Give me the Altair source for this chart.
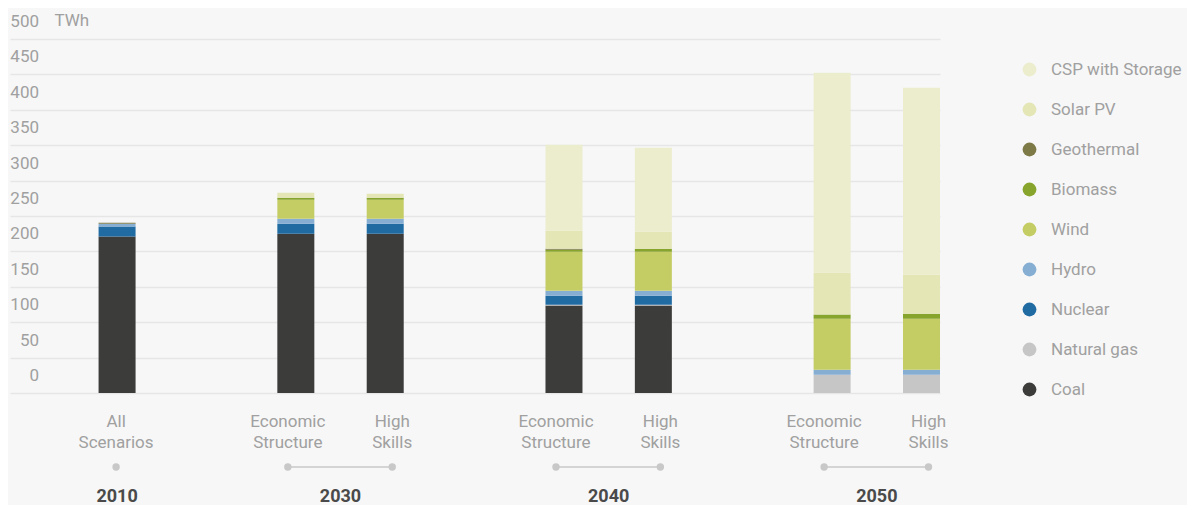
import altair as alt
import pandas as pd

# ---- data ----
bar_keys = ["All Scenarios|2010", "Economic Structure|2030", "High Skills|2030",
            "Economic Structure|2040", "High Skills|2040",
            "Economic Structure|2050", "High Skills|2050"]
slot_domain = ["All Scenarios|2010", "gap1", "gap2", "gap3",
               "Economic Structure|2030", "mid2030", "High Skills|2030",
               "gap4", "gap5", "gap6",
               "Economic Structure|2040", "mid2040", "High Skills|2040",
               "gap7", "gap8", "gap9",
               "Economic Structure|2050", "mid2050", "High Skills|2050"]

sources = ["Coal", "Natural gas", "Nuclear", "Hydro", "Wind", "Biomass",
           "Geothermal", "Solar PV", "CSP with Storage"]
colors = ["#3c3c3b", "#c6c6c6", "#216ba3", "#86aed3", "#c4cc64", "#87a52c",
          "#7e7a48", "#e4e6b6", "#ecedcd"]

coal = [221, 225, 225, 123.5, 123.5, 0, 0]
natural_gas = [0, 0, 0, 1.2, 1.2, 25.8, 25.8]
nuclear = [14, 14, 14, 12.7, 12.7, 0, 0]
hydro = [4.2, 7.1, 7.1, 7.1, 7.1, 7.1, 7.1]
wind = [0, 26.8, 26.8, 55.1, 55.1, 72, 72]
biomass = [0, 2.8, 2.8, 2.8, 4.2, 5.8, 7.2]
geothermal = [1.4, 0, 0, 1.4, 0, 0, 0]
solar_pv = [0, 7.1, 5.6, 25.4, 24, 59.2, 55]
csp = [0, 0, 0, 121.5, 118.7, 282.5, 264]

years = ["2010", "2030", "2040", "2050"]
year_slots = ["All Scenarios|2010", "mid2030", "mid2040", "mid2050"]
es_keys = ["Economic Structure|2030", "Economic Structure|2040", "Economic Structure|2050"]
hs_keys = ["High Skills|2030", "High Skills|2040", "High Skills|2050"]
y_ticks = [0, 50, 100, 150, 200, 250, 300, 350, 400, 450, 500]

series = [coal, natural_gas, nuclear, hydro, wind, biomass, geothermal, solar_pv, csp]
rows = []
for i, (src, vals) in enumerate(zip(sources, series)):
    for k, v in zip(bar_keys, vals):
        rows.append({"slot": k, "source": src, "order": i, "value": v})
df = pd.DataFrame(rows)

W, H = 930, 354
FONT = "Roboto"
GRAY = "#a0a0a0"

x_scale = alt.Scale(domain=slot_domain, paddingInner=0.172, paddingOuter=0.991, align=1)

bars = alt.Chart(df).mark_bar(size=37).encode(
    x=alt.X("slot:N", scale=x_scale, sort=slot_domain,
            axis=alt.Axis(title=None, domain=False, ticks=False, tickSize=0, grid=False,
                          labelAngle=0, labelFont=FONT, labelFontSize=17, labelColor=GRAY,
                          labelLineHeight=21, labelPadding=20, labelBaseline="top",
                          labelExpr="indexof(datum.value, '|') < 0 ? '' : split(split(datum.value, '|')[0], ' ')",
                          labelOffset={"condition": [
                              {"test": "indexof(datum.value, 'Economic') >= 0", "value": -8},
                              {"test": "indexof(datum.value, 'High') >= 0", "value": 7}],
                              "value": -1})),
    y=alt.Y("value:Q", stack="zero", scale=alt.Scale(domain=[0, 500], nice=False),
            axis=alt.Axis(title="TWh", values=y_ticks, domain=False, ticks=False, tickSize=0,
                          grid=True, gridColor="#e6e6e6", gridWidth=1.5,
                          labelFont=FONT, labelFontSize=17, labelColor=GRAY,
                          labelAlign="right", labelBaseline="middle", labelPadding=-28.5,
                          labelOffset=-17.5, labelFlush=False,
                          titleAngle=0, titleX=44, titleY=-19, titleAlign="left",
                          titleBaseline="middle", titleFont=FONT, titleFontSize=17,
                          titleFontWeight="normal", titleColor=GRAY)),
    color=alt.Color("source:N",
                    scale=alt.Scale(domain=sources[::-1], range=colors[::-1]),
                    legend=alt.Legend(title=None, orient="none", legendX=1011, legendY=22,
                                      symbolType="circle", symbolSize=190, symbolStrokeWidth=0,
                                      symbolOpacity=1, labelFont=FONT, labelFontSize=17,
                                      labelColor=GRAY, labelOffset=13, rowPadding=22,
                                      padding=0)),
    order=alt.Order("order:Q", sort="ascending"),
)

dot_color = "#c8c8c8"
dot_y = H + 74

dots_all = alt.Chart(pd.DataFrame({"slot": ["All Scenarios|2010"]})).mark_circle(
    size=55, color=dot_color, opacity=1, xOffset=-1).encode(
    x=alt.X("slot:N", scale=x_scale, sort=slot_domain), y=alt.value(dot_y))
dots_es = alt.Chart(pd.DataFrame({"slot": es_keys})).mark_circle(
    size=55, color=dot_color, opacity=1, xOffset=-8).encode(
    x=alt.X("slot:N", scale=x_scale, sort=slot_domain), y=alt.value(dot_y))
dots_hs = alt.Chart(pd.DataFrame({"slot": hs_keys})).mark_circle(
    size=55, color=dot_color, opacity=1, xOffset=7).encode(
    x=alt.X("slot:N", scale=x_scale, sort=slot_domain), y=alt.value(dot_y))
links = alt.Chart(pd.DataFrame({"a": es_keys, "b": hs_keys})).mark_rule(
    color=dot_color, strokeWidth=1.5, xOffset=-8, x2Offset=7).encode(
    x=alt.X("a:N", scale=x_scale, sort=slot_domain), x2="b:N", y=alt.value(dot_y))
year_text = alt.Chart(pd.DataFrame({"slot": year_slots, "year": years})).mark_text(
    font=FONT, fontSize=18, fontWeight="bold", color="#4a4a4a", baseline="middle",
    align="center").encode(
    x=alt.X("slot:N", scale=x_scale, sort=slot_domain), y=alt.value(H + 104),
    text="year:N")

chart = alt.layer(bars, links, dots_all, dots_es, dots_hs, year_text).properties(
    width=W, height=H, background="#f7f7f7",
    padding={"left": 1, "top": 3, "right": 5, "bottom": 0},
).configure_view(stroke=None)

chart.save("out.html", embed_options={"renderer": "svg", "actions": False})
